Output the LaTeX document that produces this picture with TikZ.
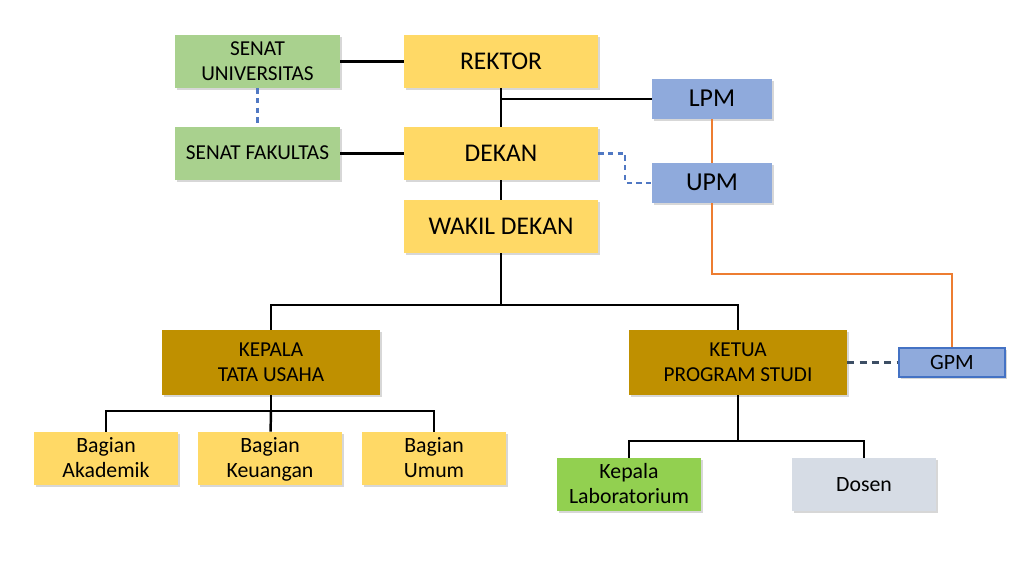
\documentclass[tikz,border=0pt]{standalone}
\usepackage{fontspec}
\setmainfont{Carlito}
\usetikzlibrary{shadows}
\definecolor{boxyellow}{RGB}{255,217,102}
\definecolor{boxgreen}{RGB}{169,209,142}
\definecolor{boxblue}{RGB}{143,170,220}
\definecolor{boxgold}{RGB}{191,144,0}
\definecolor{labgreen}{RGB}{146,208,80}
\definecolor{boxgrey}{RGB}{214,220,229}
\definecolor{lineorange}{RGB}{237,125,49}
\definecolor{lineblue}{RGB}{80,120,195}
\definecolor{lineslate}{RGB}{60,78,100}
\definecolor{gpmborder}{RGB}{68,114,196}
\newcommand\boxstrut{\rule[-0.3em]{0pt}{1.2em}}

\begin{document}
\begin{tikzpicture}[x=0.02cm, y=-0.02cm]
    % Define styles
    \tikzstyle{block} = [rectangle, inner sep=0pt, align=center, text centered, execute at begin node=\boxstrut, execute at end node=\boxstrut, drop shadow={shadow xshift=1.3pt, shadow yshift=-1.3pt, fill=black!35, opacity=0.45}]
    \tikzstyle{top} = [block, fill=boxyellow, minimum width=3.88cm, minimum height=1.06cm, font=\fontsize{14.5}{16}\selectfont]
    \tikzstyle{senat} = [block, fill=boxgreen, minimum width=3.3cm, minimum height=1.06cm, font=\fontsize{12.1}{14.2}\selectfont]
    \tikzstyle{unit} = [block, fill=boxblue, minimum width=2.4cm, minimum height=0.8cm, font=\fontsize{14.7}{16}\selectfont]
    \tikzstyle{head} = [block, fill=boxgold, minimum width=4.36cm, minimum height=1.3cm, font=\fontsize{12.1}{14.2}\selectfont]
    \tikzstyle{sub} = [block, fill=boxyellow, minimum width=2.88cm, minimum height=1.06cm, font=\fontsize{12.4}{14.2}\selectfont]
    \tikzstyle{twoline} = [text height=25.4pt, text depth=3.6pt]
    \tikzstyle{line} = [draw, line width=1.4pt]
    \tikzstyle{orangeline} = [draw, lineorange, line width=1.3pt]
    \tikzstyle{dashline} = [draw, lineblue, line width=1.2pt, dash pattern=on 3pt off 2.5pt]

    \useasboundingbox (0,0) rectangle (1024,568);

    % Nodes
    \node [top] (rektor) at (501,61.5) {REKTOR};
    \node [top] (dekan) at (501,153.5) {DEKAN};
    \node [top] (wakil) at (501,226.5) {WAKIL DEKAN};
    \node [senat, twoline] (senatuniv) at (257.5,61.5) {SENAT\\UNIVERSITAS};
    \node [senat] (senatfak) at (257.5,153.5) {SENAT FAKULTAS};
    \node [unit] (lpm) at (712,99) {LPM};
    \node [unit] (upm) at (712,183) {UPM};
    \node [block, fill=boxblue, draw=gpmborder, line width=0.8pt, minimum width=2.12cm, minimum height=0.58cm, font=\fontsize{12.4}{14}\selectfont] (gpm) at (952,362.5) {GPM};
    \node [head, twoline] (ktu) at (271,362.5) {KEPALA\\TATA USAHA};
    \node [head, twoline] (kps) at (738,362.5) {KETUA\\PROGRAM STUDI};
    \node [sub, twoline] (akademik) at (106,458.5) {Bagian\\Akademik};
    \node [sub, twoline] (keuangan) at (270,458.5) {Bagian\\Keuangan};
    \node [sub, twoline] (umum) at (434,458.5) {Bagian\\Umum};
    \node [sub, twoline, fill=labgreen] (lab) at (629,484.5) {Kepala\\Laboratorium};
    \node [sub, fill=boxgrey] (dosen) at (864,484.5) {Dosen};

    \coordinate (upmbend) at (712,274);
    \coordinate (wdsplit) at (501,305);
    \coordinate (tusplit) at (271,411);
    \coordinate (pssplit) at (738,441);

    % Connections
    \path [line] (senatuniv) -- (rektor);
    \path [line] (senatfak) -- (dekan);
    \path [dashline] (senatuniv) -- (senatfak);
    \path [line] (rektor) -- (dekan);
    \path [line] (rektor.south |- lpm) -- (lpm);
    \path [line] (dekan) -- (wakil);
    \path [dashline] (dekan.east) -- ++(27,0) |- (upm.west);
    \path [orangeline] (lpm) -- (upm);
    \path [orangeline] (upm) -- (upmbend) -| (gpm);
    \path [line] (wakil) -- (wdsplit);
    \path [line] (ktu) |- (wdsplit) -| (kps);
    \path [line] (ktu) -- (tusplit);
    \path [line] (akademik) |- (tusplit) -| (umum);
    \path [line] (tusplit) -- (keuangan);
    \path [line] (kps) -- (pssplit);
    \path [line] (lab) |- (pssplit) -| (dosen);
    \path [draw, lineslate, line width=1.4pt, dash pattern=on 4pt off 3pt] (kps) -- (gpm);
\end{tikzpicture}
\end{document}
